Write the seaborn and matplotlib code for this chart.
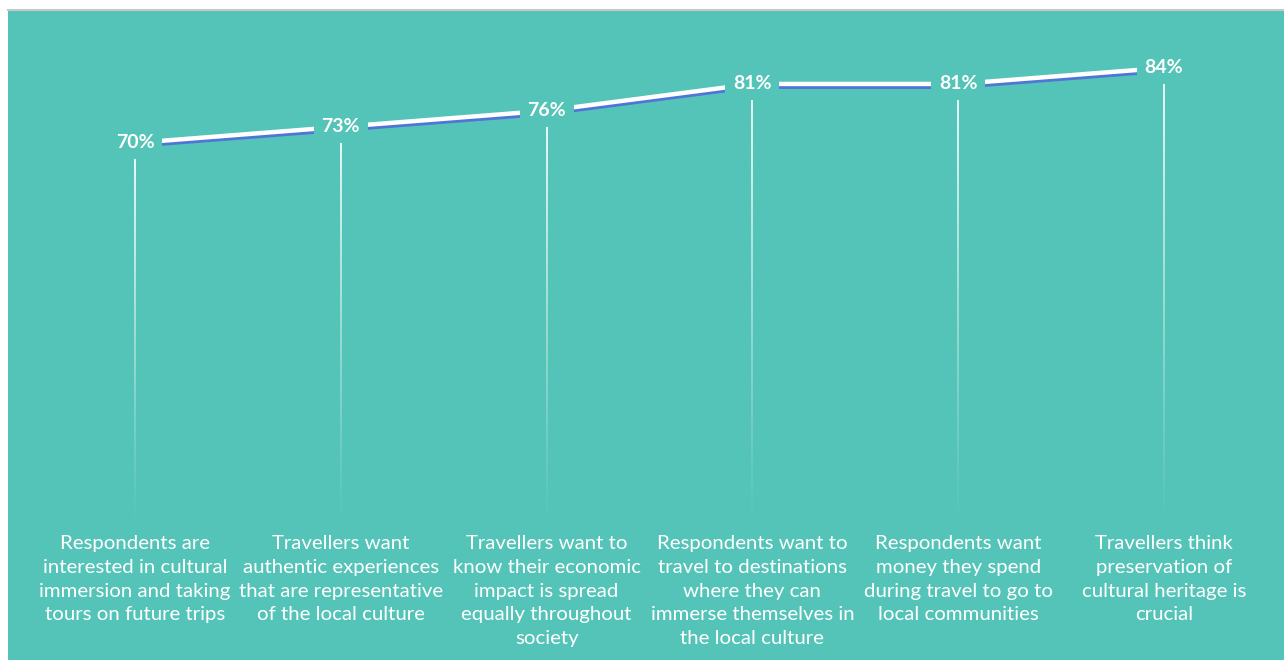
import numpy as np
import pandas as pd
import matplotlib
matplotlib.use("Agg")
import matplotlib.pyplot as plt
import matplotlib.patheffects as pe
from matplotlib.collections import LineCollection
import seaborn as sns

# Survey statements and share of respondents agreeing
statements = [
    "Respondents are\ninterested in cultural\nimmersion and taking\ntours on future trips",
    "Travellers want\nauthentic experiences\nthat are representative\nof the local culture",
    "Travellers want to\nknow their economic\nimpact is spread\nequally throughout\nsociety",
    "Respondents want to\ntravel to destinations\nwhere they can\nimmerse themselves in\nthe local culture",
    "Respondents want\nmoney they spend\nduring travel to go to\nlocal communities",
    "Travellers think\npreservation of\ncultural heritage is\ncrucial",
]
percent = [70, 73, 76, 81, 81, 84]

TEAL = "#55c4b8"
SHADOW = "#4f76d6"

sns.set_theme(style="white")
plt.rcParams["font.family"] = ["Lato", "DejaVu Sans"]

df = pd.DataFrame({"pos": np.arange(len(percent)), "pct": percent})

W, H = 1284, 660
fig = plt.figure(figsize=(W / 100, H / 100), dpi=100, facecolor="white")
ax = fig.add_axes([8 / W, 0, (W - 8) / W, (H - 10) / H])
ax.set_facecolor(TEAL)

sns.lineplot(
    data=df, x="pos", y="pct", ax=ax, color="white", linewidth=3.2,
    solid_capstyle="butt", zorder=3,
    path_effects=[pe.SimpleLineShadow(offset=(0, -2), shadow_color=SHADOW, alpha=1),
                  pe.Normal()],
)

# Fading drop lines from each value down to the baseline
n_steps = 60
for x, y in zip(df["pos"], df["pct"]):
    top = y - 2.8
    ys = np.linspace(top, -1.5, n_steps + 1)
    segs = [[(x, ys[i]), (x, ys[i + 1])] for i in range(n_steps)]
    alphas = np.linspace(0.95, 0.0, n_steps) ** 1.1
    cols = [(1, 1, 1, a) for a in alphas]
    ax.add_collection(LineCollection(segs, colors=cols, linewidths=1.3, zorder=2))

# Value labels sit on a teal box that breaks the line around them
for x, y in zip(df["pos"], df["pct"]):
    ax.text(x, y, f"{y}%", ha="center", va="center", color="white",
            fontsize=14, fontweight="bold", zorder=5,
            bbox=dict(boxstyle="square,pad=0.4", facecolor=TEAL, edgecolor="none"))

# Category descriptions under each drop line
for x, s in zip(df["pos"], statements):
    ax.text(x, -3.2, s, ha="center", va="top", color="white",
            fontsize=14.7, linespacing=1.48, zorder=5)

ax.set_xlim(-0.617, 5.583)
ax.set_ylim(-26.5, 94.8)
ax.set_xlabel("")
ax.set_ylabel("")
ax.set_xticks([])
ax.set_yticks([])
for sp in ax.spines.values():
    sp.set_visible(False)
ax.spines["top"].set_visible(True)
ax.spines["top"].set_color("#c8c8c8")
ax.spines["top"].set_linewidth(1.5)

fig.savefig("out.png", dpi=100, facecolor="white")
